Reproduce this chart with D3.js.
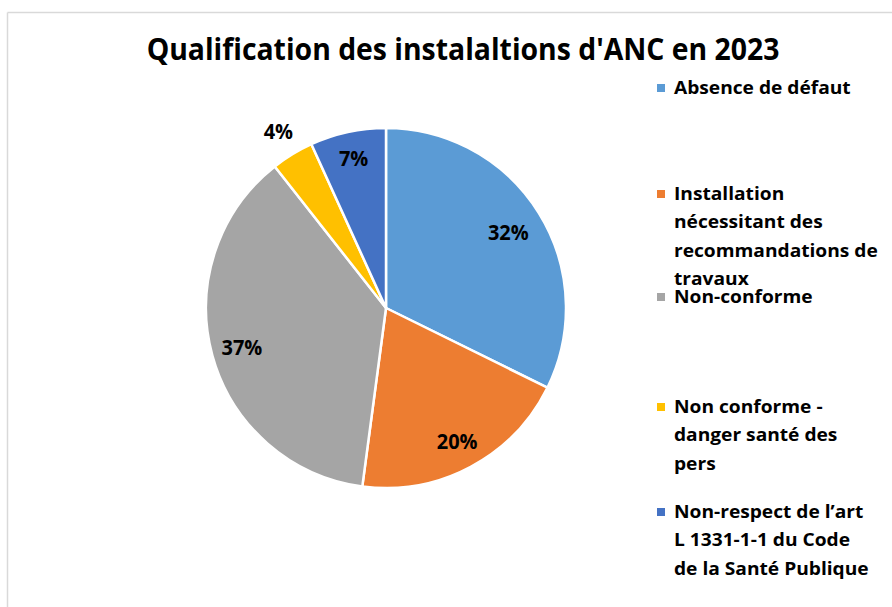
<!DOCTYPE html>
<html>
<head>
<meta charset="utf-8">
<script src="https://cdn.jsdelivr.net/npm/d3@7"></script>
<style>
  body { margin: 0; background: #fff; }
  svg { display: block; font-family: "Open Sans", "Noto Sans", sans-serif; font-weight: bold; }
</style>
</head>
<body>
<svg width="892" height="607"></svg>
<script>
const title = "Qualification des instalaltions d'ANC en 2023";
const categories = [
  "Absence de défaut",
  "Installation nécessitant des recommandations de travaux",
  "Non-conforme",
  "Non conforme - danger santé des pers",
  "Non-respect de l’art L 1331-1-1 du Code de la Santé Publique"
];
const values = [32.3, 19.8, 37.3, 3.8, 6.8];
const labels = ["32%", "20%", "37%", "4%", "7%"];
const colors = ["#5B9BD5", "#ED7D31", "#A5A5A5", "#FFC000", "#4472C4"];
// legend lines, as wrapped in the original
const legendLines = [
  ["Absence de défaut"],
  ["Installation", "nécessitant des", "recommandations de", "travaux"],
  ["Non-conforme"],
  ["Non conforme -", "danger santé des", "pers"],
  ["Non-respect de l’art", "L 1331-1-1 du Code", "de la Santé Publique"]
];
const legendTop = [94, 200, 303, 413, 518];

const svg = d3.select("svg");

// chart frame (only top and left edges are visible)
svg.append("line").attr("x1", 7.5).attr("y1", 12.5).attr("x2", 892).attr("y2", 12.5)
  .attr("stroke", "#d9d9d9").attr("stroke-width", 1.5);
svg.append("line").attr("x1", 7.5).attr("y1", 12.5).attr("x2", 7.5).attr("y2", 607)
  .attr("stroke", "#d9d9d9").attr("stroke-width", 1.5);

// title: tall font squeezed horizontally to the original width (Calibri-like)
const tg = svg.append("g");
const t = tg.append("text")
  .attr("x", 0).attr("y", 0)
  .attr("text-anchor", "middle")
  .attr("font-size", 31)
  .attr("fill", "#000")
  .text(title);
const tk = 633 / t.node().getComputedTextLength();
tg.attr("transform", `translate(463,60) scale(${tk},1)`);

const cx = 386, cy = 308, r = 180;
const pie = d3.pie().sort(null).value(d => d);
const arcs = pie(values);
const arc = d3.arc().innerRadius(0).outerRadius(r);

const g = svg.append("g").attr("transform", `translate(${cx},${cy})`);
g.selectAll("path")
  .data(arcs)
  .enter()
  .append("path")
  .attr("d", arc)
  .attr("fill", (d, i) => colors[i])
  .attr("stroke", "#fff")
  .attr("stroke-width", 2.5)
  .attr("stroke-linejoin", "round");

// label radius per slice (small yellow one sits outside)
const labelRadius = [0.8, 0.84, 0.83, 1.15, 0.85];
const labelArc = i => d3.arc().innerRadius(r * labelRadius[i]).outerRadius(r * labelRadius[i]);
g.selectAll("text.lab")
  .data(arcs)
  .enter()
  .append("text")
  .attr("class", "lab")
  .attr("transform", (d, i) => {
    const c = labelArc(i).centroid(d);
    return `translate(${c[0]},${c[1]}) scale(0.95,1)`;
  })
  .attr("text-anchor", "middle")
  .attr("dy", "0.36em")
  .attr("font-size", 21)
  .attr("fill", "#000")
  .text((d, i) => labels[i]);

// legend
const lg = svg.append("g");
const probe = lg.append("text").attr("font-size", 18).text("recommandations de");
const lk = 204 / probe.node().getComputedTextLength();
probe.remove();

categories.forEach((c, i) => {
  lg.append("rect")
    .attr("x", 657).attr("y", legendTop[i] - 10)
    .attr("width", 8).attr("height", 8)
    .attr("fill", colors[i]);
  const txt = lg.append("g")
    .attr("transform", `translate(674,${legendTop[i]}) scale(${lk},1)`)
    .append("text")
    .attr("x", 0).attr("y", 0)
    .attr("font-size", 18)
    .attr("fill", "#000");
  legendLines[i].forEach((line, j) => {
    txt.append("tspan").attr("x", 0).attr("dy", j === 0 ? 0 : 28.5).text(line);
  });
});
</script>
</body>
</html>
